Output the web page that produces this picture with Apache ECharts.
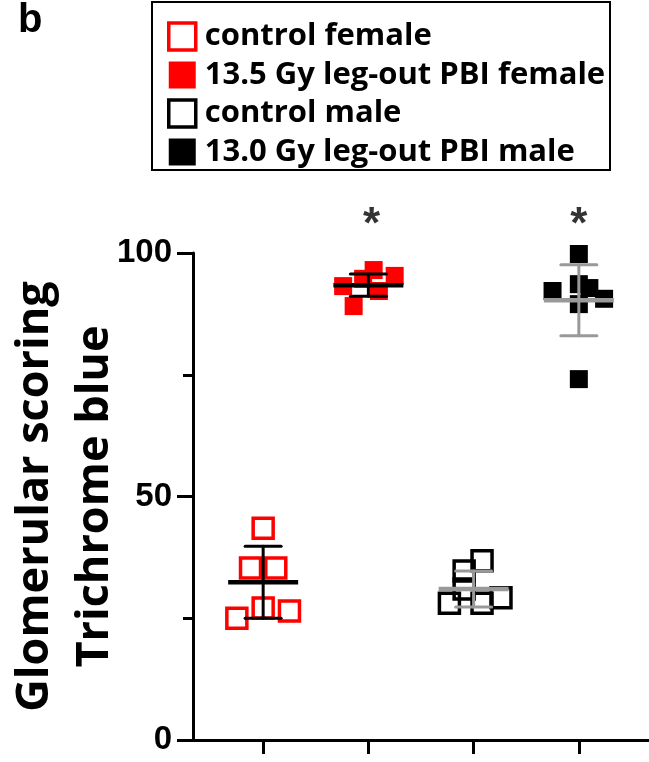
<!DOCTYPE html>
<html>
<head>
<meta charset="utf-8">
<script src="https://cdn.jsdelivr.net/npm/echarts@6/dist/echarts.min.js"></script>
<style>html,body{margin:0;padding:0;background:#fff}#c{width:649px;height:762px}</style>
</head>
<body>
<div id="c"></div>
<script>
// ---- data ----
const categories = ['control female', '13.5 Gy leg-out PBI female', 'control male', '13.0 Gy leg-out PBI male'];
const groupPositions = [1, 2, 3, 4];
const yTicks = [0, 50, 100];

const ctrlFemaleX = [1.00, 0.88, 1.12, 1.00, 1.25, 0.75];
const ctrlFemaleY = [43.5, 35.3, 35.3, 27.1, 26.5, 25.0];

const irrFemaleX = [2.05, 2.25, 1.76, 1.86, 1.95, 2.10];
const irrFemaleY = [96.5, 95.3, 93.2, 89.1, 94.7, 92.2];

const ctrlMaleX = [3.08, 2.91, 2.91, 2.77, 3.08, 3.26];
const ctrlMaleY = [36.8, 34.7, 31.0, 28.1, 28.1, 29.2];

const irrMaleX = [4.00, 3.75, 4.00, 4.00, 4.10, 4.24, 4.00];
const irrMaleY = [99.8, 92.2, 93.6, 89.5, 92.8, 90.6, 74.1];

const groupMeans = [32.4, 93.4, 31.0, 90.3];
const groupSD = [7.4, 2.3, 3.7, 7.3];

const starGroups = [2.03, 4.00];
const starLevel = [105.6, 105.6];

// ---- chart ----
const zip = (xs, ys) => xs.map((x, i) => [x, ys[i]]);
const RED = '#ff0000';
const GRAY = '#999999';
const barColors = ['#000', '#000', GRAY, GRAY];

const chart = echarts.init(document.getElementById('c'), null, {renderer: 'canvas'});

function renderBar(params, api) {
  const x = api.value(0), m = api.value(1), s = api.value(2);
  const c = api.coord([x, m]);
  const top = api.coord([x, m + s]);
  const bot = api.coord([x, m - s]);
  const color = barColors[params.dataIndex];
  const halfMean = 35, halfCap = 18;
  const thin = {stroke: color, lineWidth: 3, lineCap: 'round'};
  return {
    type: 'group',
    children: [
      {type: 'line', shape: {x1: c[0], y1: top[1], x2: c[0], y2: bot[1]}, style: thin},
      {type: 'line', shape: {x1: c[0] - halfCap, y1: top[1], x2: c[0] + halfCap, y2: top[1]}, style: thin},
      {type: 'line', shape: {x1: c[0] - halfCap, y1: bot[1], x2: c[0] + halfCap, y2: bot[1]}, style: thin},
      {type: 'line', shape: {x1: c[0] - halfMean, y1: c[1], x2: c[0] + halfMean, y2: c[1]}, style: {stroke: color, lineWidth: 4.5}}
    ]
  };
}

const hollow = (col) => ({color: 'rgba(0,0,0,0)', borderColor: col, borderWidth: 3.5, opacity: 1});

chart.setOption({
  animation: false,
  backgroundColor: '#fff',
  title: {
    text: 'b', left: 13, top: -4,
    textStyle: {fontFamily: 'Liberation Sans', fontWeight: 'bold', fontSize: 40, color: '#000'}
  },
  graphic: [{
    type: 'rect', shape: {x: 152, y: 2, width: 458, height: 168},
    style: {fill: 'none', stroke: '#000', lineWidth: 2}, z: 10
  }],
  legend: {
    orient: 'vertical', left: 162, top: 16,
    itemWidth: 27, itemHeight: 27, itemGap: 7.5,
    textStyle: {fontFamily: 'Open Sans', fontWeight: 'bold', fontSize: 31, color: '#000', lineHeight: 30, padding: [0, 0, 0, 4]},
    data: [
      {name: categories[0], icon: 'rect', itemStyle: {color: 'rgba(0,0,0,0)', borderColor: RED, borderWidth: 3.5}},
      {name: categories[1], icon: 'rect', itemStyle: {color: RED, borderWidth: 0}},
      {name: categories[2], icon: 'rect', itemStyle: {color: 'rgba(0,0,0,0)', borderColor: '#000', borderWidth: 3.5}},
      {name: categories[3], icon: 'rect', itemStyle: {color: '#000', borderWidth: 0}}
    ]
  },
  grid: {left: 193, right: 0, top: 253, bottom: 22, containLabel: false, outerBoundsMode: 'none'},
  xAxis: {
    type: 'value', min: 1 / 3, max: 14 / 3,
    splitLine: {show: false},
    axisLine: {show: true, lineStyle: {color: '#000', width: 3}},
    axisTick: {show: true, customValues: groupPositions, length: 14, lineStyle: {color: '#000', width: 3}},
    axisLabel: {show: false}
  },
  yAxis: {
    type: 'value', min: 0, max: 100, interval: 50,
    name: 'Glomerular scoring\nTrichrome blue',
    nameLocation: 'middle', nameRotate: 90, nameGap: 68, nameMoveOverlap: false,
    nameTextStyle: {fontFamily: 'Open Sans', fontWeight: 'bold', fontSize: 45, lineHeight: 60, color: '#000'},
    splitLine: {show: false},
    axisLine: {show: true, onZero: false, lineStyle: {color: '#000', width: 3}},
    axisTick: {show: true, length: 16, lineStyle: {color: '#000', width: 3}},
    minorTick: {show: true, splitNumber: 2, length: 10, lineStyle: {color: '#000', width: 3}},
    axisLabel: {
      margin: 21, fontFamily: 'Liberation Sans', fontWeight: 'bold', fontSize: 33, color: '#000',
      customValues: yTicks
    }
  },
  series: [
    {name: categories[0], type: 'scatter', symbol: 'rect', symbolSize: 20, itemStyle: hollow(RED), data: zip(ctrlFemaleX, ctrlFemaleY), z: 2},
    {name: categories[1], type: 'scatter', symbol: 'rect', symbolSize: 18, itemStyle: {color: RED, opacity: 1}, data: zip(irrFemaleX, irrFemaleY), z: 2},
    {name: categories[2], type: 'scatter', symbol: 'rect', symbolSize: 20, itemStyle: hollow('#000'), data: zip(ctrlMaleX, ctrlMaleY), z: 2},
    {name: categories[3], type: 'scatter', symbol: 'rect', symbolSize: 18, itemStyle: {color: '#000', opacity: 1}, data: zip(irrMaleX, irrMaleY), z: 2},
    {
      name: 'mean ± SD', type: 'custom', z: 5, clip: false,
      renderItem: renderBar,
      data: groupPositions.map((x, i) => [x, groupMeans[i], groupSD[i]])
    },
    {
      name: 'significance', type: 'scatter', symbolSize: 0, clip: false, silent: true,
      data: zip(starGroups, starLevel),
      label: {show: true, position: 'inside', formatter: '*', fontFamily: 'Liberation Sans', fontWeight: 'bold', fontSize: 44, color: '#000'}
    }
  ]
});
</script>
</body>
</html>
